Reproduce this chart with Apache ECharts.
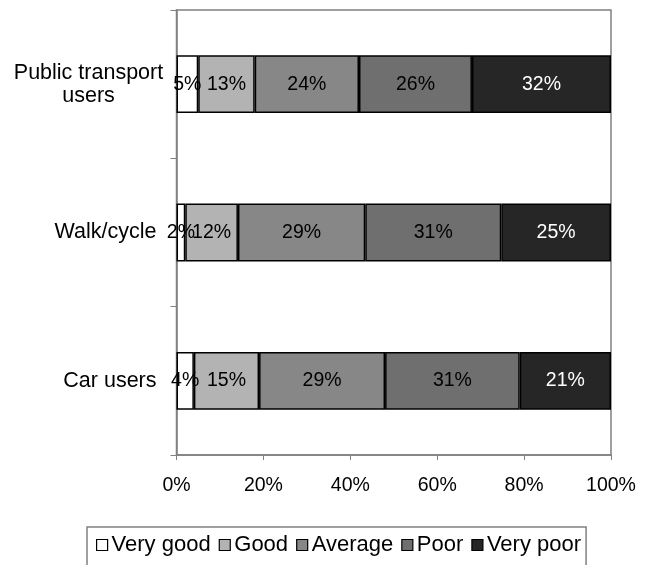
<!DOCTYPE html>
<html>
<head>
<meta charset="utf-8">
<script src="https://cdn.jsdelivr.net/npm/echarts@6/dist/echarts.min.js"></script>
<style>
  html, body { margin: 0; padding: 0; background: #ffffff; }
  #chart { width: 649px; height: 565px; }
</style>
</head>
<body>
<div id="chart"></div>
<script>
// Survey groups, top to bottom
const categories = ['Public transport users', 'Walk/cycle', 'Car users'];

// Rating shares (%) for each group
const veryGood = [5, 2, 4];
const good = [13, 12, 15];
const average = [24, 29, 29];
const poor = [26, 31, 31];
const veryPoor = [32, 25, 21];

const seriesNames = ['Very good', 'Good', 'Average', 'Poor', 'Very poor'];
const seriesValues = [veryGood, good, average, poor, veryPoor];
const seriesColors = ['#ffffff', '#b3b3b3', '#878787', '#6f6f6f', '#262626'];
const labelColors = ['#000000', '#000000', '#000000', '#000000', '#ffffff'];

const xTicks = [0, 20, 40, 60, 80, 100];

// 100% stacked: each bar is scaled by its group total
const totals = categories.map((_, i) =>
  seriesValues.reduce((s, arr) => s + arr[i], 0));

const FONT = '"Liberation Sans", Arial, sans-serif';

const series = seriesNames.map((name, k) => ({
  name: name,
  type: 'bar',
  stack: 'total',
  barWidth: '39%',
  data: seriesValues[k].map((v, i) => ({ value: v / totals[i] * 100, raw: v })),
  itemStyle: { color: seriesColors[k], borderColor: '#000000', borderWidth: 1.5 },
  label: {
    show: true,
    position: 'inside',
    color: labelColors[k],
    fontFamily: FONT,
    fontSize: 19.5,
    formatter: p => p.data.raw + '%'
  },
  emphasis: { disabled: true }
}));

const chart = echarts.init(document.getElementById('chart'), null, { renderer: 'canvas' });
chart.setOption({
  animation: false,
  backgroundColor: '#ffffff',
  grid: {
    left: 176.5, right: 38, top: 10, bottom: 110,
    show: true, borderColor: '#808080', borderWidth: 1.5, backgroundColor: 'transparent'
  },
  xAxis: {
    type: 'value',
    min: xTicks[0],
    max: xTicks[xTicks.length - 1],
    interval: xTicks[1] - xTicks[0],
    axisLine: { show: true, lineStyle: { color: '#808080', width: 1.5 } },
    axisTick: { show: true, length: 5, lineStyle: { color: '#808080' } },
    splitLine: { show: false },
    axisLabel: {
      color: '#000000', fontFamily: FONT, fontSize: 19.5, margin: 21,
      formatter: v => v + '%'
    }
  },
  yAxis: {
    type: 'category',
    inverse: true,
    data: categories,
    axisLine: { show: true, lineStyle: { color: '#808080', width: 1.5 } },
    axisTick: { show: true, length: 6, lineStyle: { color: '#808080' } },
    axisLabel: {
      color: '#000000', fontFamily: FONT, fontSize: 21.5, margin: 13,
      formatter: v => v === 'Public transport users'
        ? '{c|Public transport}\n{c|users}'
        : '{r|' + v + '}',
      rich: {
        c: { width: 150, align: 'center', fontSize: 21.5, fontFamily: FONT, lineHeight: 23, color: '#000' },
        r: { fontSize: 21.5, fontFamily: FONT, padding: [0, 7, 0, 0], color: '#000' }
      }
    }
  },
  legend: {
    data: seriesNames,
    left: 87,
    top: 527,
    orient: 'horizontal',
    padding: [7, 5, 20, 9],
    borderColor: '#808080',
    borderWidth: 1.5,
    itemWidth: 11,
    itemHeight: 11,
    itemGap: 8,
    icon: 'rect',
    textStyle: { color: '#000000', fontFamily: FONT, fontSize: 22, padding: [0, 0, 0, -1] },
    itemStyle: { borderColor: '#000000', borderWidth: 1.2 },
    selectedMode: false
  },
  series: series
});
</script>
</body>
</html>
